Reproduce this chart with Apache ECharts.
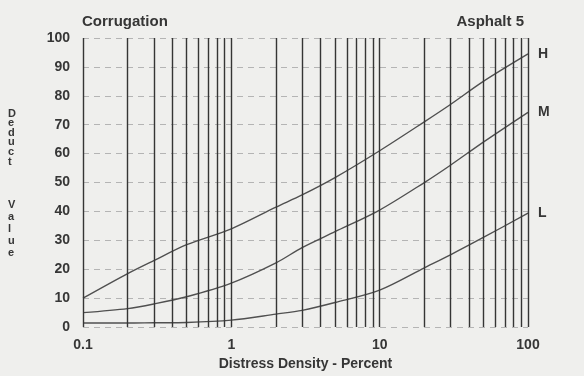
<!DOCTYPE html>
<html>
<head>
<meta charset="utf-8">
<script src="https://cdn.jsdelivr.net/npm/echarts@6/dist/echarts.min.js"></script>
<style>html,body{margin:0;padding:0;background:#efefed;}#c{width:584px;height:376px;}</style>
</head>
<body>
<div id="c"></div>
<script>
// Data
const density = [0.1, 0.2, 0.3, 0.5, 1, 2, 3, 5, 10, 20, 30, 50, 100];
const highValues = [10, 18.5, 23, 28.5, 34, 41.5, 45.7, 51.7, 61, 71, 77, 85, 94.5];
const mediumValues = [5, 6.4, 8, 10.5, 15.2, 22.2, 27.5, 33, 40.5, 50, 56, 64, 74.3];
const lowValues = [1.4, 1.4, 1.5, 1.6, 2.4, 4.5, 5.8, 8.5, 12.8, 20.5, 25, 31, 39.4];
const verticalGrid = [0.1,0.2,0.3,0.4,0.5,0.6,0.7,0.8,0.9,1,2,3,4,5,6,7,8,9,10,20,30,40,50,60,70,80,90,100];
const xTickLabels = [0.1, 1, 10, 100];

const font = 'Liberation Sans, Arial, sans-serif';
const ink = '#363636';
const curveColor = '#505050';

function pairs(vals){ return density.map((d,i)=>[d, vals[i]]); }

const chart = echarts.init(document.getElementById('c'), null, {renderer:'canvas'});
chart.setOption({
  backgroundColor: '#efefed',
  animation: false,
  title: [
    {text:'Corrugation', left:77, top:9, textStyle:{fontFamily:font, fontSize:15, fontWeight:'bold', color:ink}},
    {text:'Asphalt 5', right:55, top:9, textStyle:{fontFamily:font, fontSize:15, fontWeight:'bold', color:ink}}
  ],
  graphic: [
    {type:'text', left:8, top:108, style:{text:'D\ne\nd\nu\nc\nt', fontFamily:font, fontSize:11, fontWeight:'bold', fill:ink, lineHeight:9.6, align:'center'}},
    {type:'text', left:8, top:199, style:{text:'V\na\nl\nu\ne', fontFamily:font, fontSize:11, fontWeight:'bold', fill:ink, lineHeight:12, align:'center'}}
  ],
  grid: {left:83, right:56, top:38, bottom:46},
  xAxis: {
    type:'log', logBase:10, min:0.1, max:100,
    name:'Distress Density - Percent', nameLocation:'middle', nameGap:24,
    nameTextStyle:{fontFamily:font, fontSize:14, fontWeight:'bold', color:ink},
    axisLine:{show:false}, axisTick:{show:false}, splitLine:{show:false},
    axisLabel:{fontFamily:font, fontSize:14, fontWeight:'bold', color:ink, margin:11,
      formatter: v => xTickLabels.some(t=>Math.abs(t-v)<1e-9) ? String(v) : ''}
  },
  yAxis: {
    type:'value', min:0, max:100, interval:10,
    axisLine:{show:false}, axisTick:{show:false},
    axisLabel:{fontFamily:font, fontSize:14, fontWeight:'bold', color:ink, margin:13},
    splitLine:{show:true, lineStyle:{color:'#b4b4b4', type:[6,5], width:1}}
  },
  series: [
    {
      type:'line', name:'grid', data:[], silent:true,
      markLine:{silent:true, symbol:'none', label:{show:false},
        lineStyle:{color:'#353535', width:1.4, type:'solid'},
        data: verticalGrid.map(v=>({xAxis:v}))}
    },
    {type:'line', name:'H', data:pairs(highValues), smooth:0.3, symbol:'none',
      lineStyle:{color:curveColor, width:1.4},
      endLabel:{show:true, formatter:'H', distance:10, fontFamily:font, fontSize:14, fontWeight:'bold', color:ink}},
    {type:'line', name:'M', data:pairs(mediumValues), smooth:0.3, symbol:'none',
      lineStyle:{color:curveColor, width:1.4},
      endLabel:{show:true, formatter:'M', distance:10, fontFamily:font, fontSize:14, fontWeight:'bold', color:ink}},
    {type:'line', name:'L', data:pairs(lowValues), smooth:0.3, symbol:'none',
      lineStyle:{color:curveColor, width:1.4},
      endLabel:{show:true, formatter:'L', distance:10, fontFamily:font, fontSize:14, fontWeight:'bold', color:ink}}
  ]
});
</script>
</body>
</html>
